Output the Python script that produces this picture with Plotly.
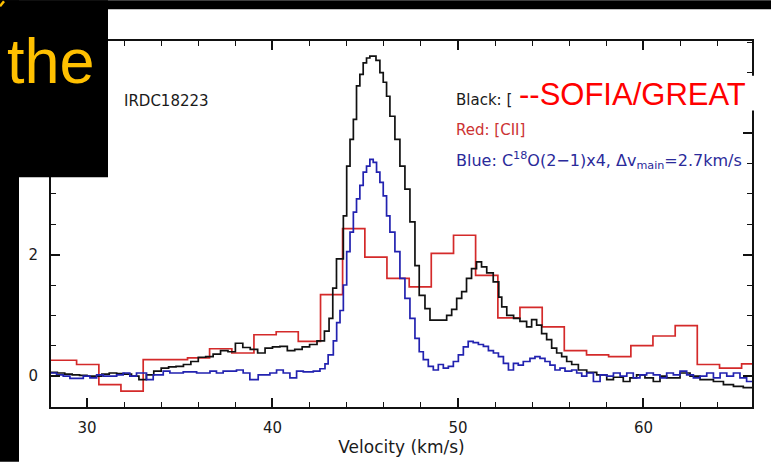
import plotly.graph_objects as go

# ---------------- data ----------------
# [CII] (red) : channel left edges (km/s) and antenna temperature (K); last edge closes final channel
red_edges = [27.05, 28.24, 29.44, 30.64, 31.83, 33.03, 34.22, 35.42, 36.61, 37.81, 39.0, 40.2,
             41.39, 42.59, 43.78, 44.98, 46.17, 47.37, 48.56, 49.76, 50.95, 52.15, 53.34, 54.54,
             55.73, 56.93, 58.12, 59.32, 60.51, 61.71, 62.9, 64.1, 65.29, 66.49]
red_vals = [0.26, 0.26, 0.19, -0.14, -0.25, 0.27, 0.27, 0.30, 0.45, 0.38, 0.68, 0.73,
            0.57, 1.34, 2.43, 1.96, 1.61, 1.47, 2.02, 2.32, 1.66, 0.96, 1.13, 0.81,
            0.42, 0.35, 0.32, 0.50, 0.66, 0.83, 0.19, 0.13, 0.20]

# [CI] SOFIA/GREAT (black)
black_edges = [28.0, 28.4, 28.8, 29.2, 29.6, 30.0, 30.4, 30.8, 31.2, 31.6, 32.0, 32.4, 32.8, 33.2,
               33.6, 34.0, 34.4, 34.8, 35.2, 35.6, 36.0, 36.4, 36.8, 37.2, 37.6, 38.0, 38.4, 38.8,
               39.2, 39.6, 40.0, 40.4, 40.8, 41.2, 41.6, 42.0, 42.4, 42.8, 43.05, 43.25, 43.45,
               43.82, 44.0, 44.18, 44.36, 44.53, 44.71, 44.89, 45.07, 45.25, 45.58, 45.79, 45.97,
               46.15, 46.33, 46.6, 46.87, 47.14, 47.41, 47.68, 47.91, 48.22, 48.49, 49.39, 49.66,
               49.93, 50.2, 50.46, 50.73, 51.0, 51.27, 51.55, 51.9, 52.2, 52.36, 52.63, 53.0,
               53.34, 53.7, 53.97, 54.24, 54.51, 54.78, 55.05, 55.32, 55.59, 55.86, 56.13, 56.49,
               56.94, 57.48, 58.02, 58.38, 58.91, 59.27, 59.63, 60.08, 60.53, 60.89, 61.25, 61.97,
               62.51, 63.05, 63.77, 64.31, 64.85, 65.38, 66.0]
black_vals = [0.06, 0.05, 0.03, 0.02, 0.01, 0.0, 0.0, 0.03, 0.05, 0.04, 0.03, 0.0, -0.06, 0.02,
              0.08, 0.13, 0.15, 0.16, 0.19, 0.24, 0.31, 0.32, 0.36, 0.42, 0.40, 0.54, 0.47, 0.44,
              0.38, 0.46, 0.48, 0.49, 0.42, 0.44, 0.48, 0.52, 0.58, 0.74, 0.95, 1.45, 1.93,
              2.64, 3.46, 3.90, 4.23, 4.78, 4.97, 5.16, 5.24, 5.27, 5.20, 5.00, 4.84,
              4.61, 4.28, 3.90, 3.46, 3.08, 2.54, 1.82, 1.33, 1.11, 0.92, 1.00, 1.10,
              1.28, 1.39, 1.61, 1.77, 1.88, 1.80, 1.70, 1.55, 1.30, 1.14, 1.00, 0.95,
              0.90, 0.81, 0.93, 0.84, 0.70, 0.60, 0.46, 0.38, 0.32, 0.24, 0.19, 0.10,
              0.06, 0.02, -0.06, -0.02, -0.09, -0.03, 0.02, -0.03, -0.09, 0.0, -0.03, 0.05,
              0.0, -0.06, -0.09, -0.14, -0.17, -0.19]

# C18O(2-1) x4 (blue)
blue_edges = [28.0, 28.36, 28.72, 29.08, 29.8, 30.16, 30.52, 30.88, 31.6, 31.95, 32.31, 32.67,
              33.21, 33.57, 34.11, 34.47, 35.19, 35.91, 36.63, 36.98, 37.34, 38.06, 38.42, 38.78,
              39.23, 39.86, 40.22, 40.58, 40.94, 41.3, 41.66, 42.2, 42.56, 42.83, 43.0, 43.28,
              43.46, 43.64, 43.82, 44.0, 44.18, 44.36, 44.53, 44.71, 44.89, 45.07, 45.25, 45.43,
              45.61, 45.79, 45.97, 46.15, 46.33, 46.6, 46.87, 47.14, 47.41, 47.68, 47.91, 48.13,
              48.4, 48.67, 48.94, 49.21, 49.48, 49.75, 50.02, 50.29, 50.55, 50.82, 51.1, 51.37,
              51.64, 51.91, 52.18, 52.45, 52.72, 52.99, 53.25, 53.52, 53.88, 54.15, 54.42, 54.69,
              54.96, 55.23, 55.5, 55.77, 56.13, 56.4, 56.67, 56.94, 57.3, 57.66, 58.02, 58.38,
              58.74, 59.1, 59.45, 59.81, 60.17, 60.53, 60.89, 61.25, 61.61, 61.97, 62.33, 62.69,
              63.05, 63.41, 63.77, 64.13, 64.49, 64.85, 65.2, 65.56, 66.0]
blue_vals = [0.05, 0.02, 0.0, -0.04, 0.0, -0.03, 0.02, 0.0, 0.02, 0.05, 0.0, 0.05,
             -0.06, 0.02, 0.08, 0.05, 0.07, 0.05, 0.08, 0.05, 0.08, 0.10, 0.05, -0.06,
             0.02, 0.05, 0.10, 0.05, -0.03, 0.08, 0.07, 0.08, 0.12, 0.20, 0.35, 0.58,
             0.88, 1.08, 1.50, 2.05, 2.37, 2.70, 2.92, 3.14, 3.36, 3.46, 3.57, 3.52,
             3.36, 3.19, 2.97, 2.64, 2.37, 2.05, 1.61, 1.28, 0.95, 0.62, 0.40, 0.27,
             0.16, 0.10, 0.19, 0.13, 0.16, 0.24, 0.35, 0.48, 0.57, 0.55, 0.52, 0.49,
             0.42, 0.38, 0.32, 0.21, 0.10, 0.21, 0.18, 0.24, 0.29, 0.32, 0.29, 0.24,
             0.18, 0.10, 0.13, 0.08, 0.10, 0.05, 0.0, 0.05, -0.09, 0.02, 0.0, 0.05,
             0.0, 0.05, -0.03, 0.02, 0.05, 0.02, -0.03, 0.05, 0.02, 0.08, 0.02, -0.03,
             0.0, 0.05, -0.03, 0.05, 0.0, 0.05, -0.03, -0.09]

x_ticks = [30, 40, 50, 60]
y_ticks = [0, 2, 4]

# ---------------- layout helpers (pixel -> paper) ----------------
W, H = 771, 464
ML, MR, MT, MB = 51, 19, 41, 55
PW, PH = W - ML - MR, H - MT - MB


def px(x):
    return (x - ML) / PW


def py(y):
    return (H - MB - y) / PH


FONT = "DejaVu Sans"

fig = go.Figure()
for edges, vals, col in [(red_edges, red_vals, "#d42a2a"),
                         (black_edges, black_vals, "#111111"),
                         (blue_edges, blue_vals, "#2222b0")]:
    fig.add_trace(go.Scatter(x=edges, y=vals + [vals[-1]], mode="lines",
                             line=dict(color=col, width=1.7, shape="hv"),
                             showlegend=False, hoverinfo="skip"))

axis_common = dict(showline=True, linecolor="#111111", linewidth=1.8, mirror="ticks",
                   ticks="inside", ticklen=9, tickwidth=1.5, tickcolor="#111111",
                   showgrid=False, zeroline=False,
                   tickfont=dict(family=FONT, size=15, color="#1a1a1a"))

fig.update_layout(
    width=W, height=H,
    margin=dict(l=ML, r=MR, t=MT, b=MB),
    paper_bgcolor="white", plot_bgcolor="white",
    xaxis=dict(range=[28.06, 65.85], tickvals=x_ticks, ticklabelstandoff=6,
               minor=dict(dtick=2, tick0=0, ticks="inside", ticklen=5, tickwidth=1.3,
                          tickcolor="#111111"),
               title=dict(text="Velocity (km/s)", font=dict(family=FONT, size=17, color="#1a1a1a"),
                          standoff=3),
               **axis_common),
    yaxis=dict(range=[-0.51, 5.52], tickvals=y_ticks, ticklabelstandoff=8,
               minor=dict(dtick=0.5, tick0=0, ticks="inside", ticklen=5, tickwidth=1.3,
                          tickcolor="#111111"),
               **axis_common),
)

# black slide background pieces
shapes = [
    dict(type="rect", xref="paper", yref="paper", x0=px(0), x1=px(W), y0=py(9), y1=py(0)),
    dict(type="rect", xref="paper", yref="paper", x0=px(0), x1=px(19), y0=py(H), y1=py(0)),
    dict(type="rect", xref="paper", yref="paper", x0=px(0), x1=px(108), y0=py(178), y1=py(0)),
]
for s in shapes:
    s.update(fillcolor="black", line=dict(width=0), layer="above")
    fig.add_shape(**s)
# small remnant of slide text in the corner
fig.add_shape(type="line", xref="paper", yref="paper", x0=px(0), y0=py(6), x1=px(4), y1=py(1),
              line=dict(color="#FFC000", width=2.5), layer="above")
# white patch under the SOFIA/GREAT label
fig.add_shape(type="rect", xref="paper", yref="paper", x0=px(517), x1=px(762), y0=py(111), y1=py(76),
              fillcolor="white", line=dict(width=0), layer="above")

ann = [
    dict(text="the", x=px(6), y=py(61), font=dict(family="Liberation Sans", size=63, color="#FFC000")),
    dict(text="IRDC18223", x=px(123), y=py(101), font=dict(family=FONT, size=15, color="#1a1a1a")),
    dict(text="Black: [", x=px(455), y=py(100), font=dict(family=FONT, size=15, color="#1a1a1a")),
    dict(text="Red: [CII]", x=px(455), y=py(130), font=dict(family=FONT, size=15, color="#cc3333")),
    dict(text="Blue: C<sup>18</sup>O(2−1)x4, Δv<sub>main</sub>=2.7km/s", x=px(455), y=py(161),
         font=dict(family=FONT, size=16, color="#2a2a9a")),
    dict(text="--SOFIA/GREAT", x=px(518), y=py(95), font=dict(family="Liberation Sans", size=31, color="#FF0000")),
]
for a in ann:
    fig.add_annotation(xref="paper", yref="paper", xanchor="left", yanchor="middle",
                       showarrow=False, borderpad=0, **a)

fig.write_html("out.html", config={"displayModeBar": False},
               post_script="document.body.style.margin='0';")
